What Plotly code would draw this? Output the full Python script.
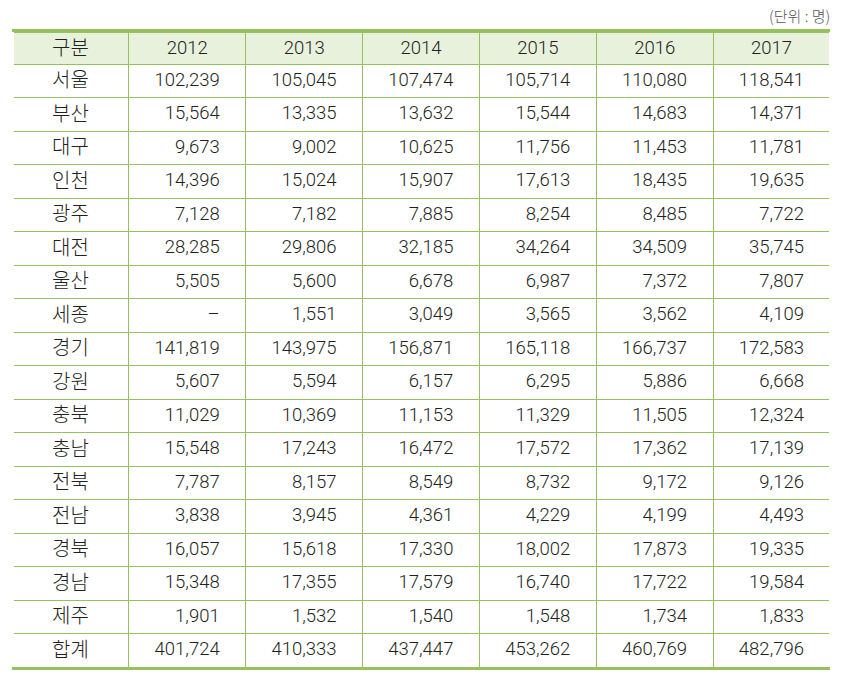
import plotly.graph_objects as go

regions = ["서울", "부산", "대구", "인천", "광주", "대전", "울산", "세종", "경기",
           "강원", "충북", "충남", "전북", "전남", "경북", "경남", "제주", "합계"]
years = ["2012", "2013", "2014", "2015", "2016", "2017"]

v2012 = [102239, 15564, 9673, 14396, 7128, 28285, 5505, None, 141819,
         5607, 11029, 15548, 7787, 3838, 16057, 15348, 1901, 401724]
v2013 = [105045, 13335, 9002, 15024, 7182, 29806, 5600, 1551, 143975,
         5594, 10369, 17243, 8157, 3945, 15618, 17355, 1532, 410333]
v2014 = [107474, 13632, 10625, 15907, 7885, 32185, 6678, 3049, 156871,
         6157, 11153, 16472, 8549, 4361, 17330, 17579, 1540, 437447]
v2015 = [105714, 15544, 11756, 17613, 8254, 34264, 6987, 3565, 165118,
         6295, 11329, 17572, 8732, 4229, 18002, 16740, 1548, 453262]
v2016 = [110080, 14683, 11453, 18435, 8485, 34509, 7372, 3562, 166737,
         5886, 11505, 17362, 9172, 4199, 17873, 17722, 1734, 460769]
v2017 = [118541, 14371, 11781, 19635, 7722, 35745, 7807, 4109, 172583,
         6668, 12324, 17139, 9126, 4493, 19335, 19584, 1833, 482796]

unit_label = "(단위 : 명)"

GREEN = "#96c15c"
HEADER_BG = "#e8f1dc"
TEXT = "#231f20"
KO_FONT = "Noto Sans CJK KR, sans-serif"
NUM_FONT = "Roboto, Liberation Sans, sans-serif"
PAD = "\u00a0" * 4

W, H = 844, 698
HEADER_H, ROW_H = 32, 33.5
# page body adds an 8px offset, margins below take that into account
M_L, M_R, M_T = 4, 22, 24
M_B = H - M_T - int(round(HEADER_H + ROW_H * len(regions)))


def fmt(col):
    return [("–" if v is None else f"{v:,}") + PAD for v in col]


columns = [regions] + [fmt(c) for c in (v2012, v2013, v2014, v2015, v2016, v2017)]
col_fonts = dict(
    family=[KO_FONT] + [NUM_FONT] * 6,
    size=[20] + [18.5] * 6,
    color=TEXT,
    weight=300,
)

fig = go.Figure(
    go.Table(
        columnwidth=[1] * 7,
        header=dict(
            values=["구분"] + years,
            fill_color=HEADER_BG,
            line=dict(color=GREEN, width=1),
            align="center",
            font=col_fonts,
            height=HEADER_H,
        ),
        cells=dict(
            values=columns,
            fill_color="white",
            line=dict(color=GREEN, width=1),
            align=["center"] + ["right"] * 6,
            font=col_fonts,
            height=ROW_H,
        ),
    )
)

plot_w = W - M_L - M_R
plot_h = H - M_T - M_B


def box(x, y, xanchor, yanchor, w, h, color):
    fig.add_annotation(
        text="\u00a0", xref="paper", yref="paper", x=x, y=y,
        xanchor=xanchor, yanchor=yanchor, width=w, height=h,
        bgcolor=color, borderpad=0, borderwidth=0, showarrow=False,
        font=dict(size=1),
    )


# hide outer left/right cell borders
box(0, 0.5, "center", "middle", 3, plot_h, "white")
box(1, 0.5, "center", "middle", 3, plot_h, "white")
# thick green rules above header and below last row
box(0.5, 1, "center", "bottom", plot_w, 3, GREEN)
box(0.5, 0, "center", "top", plot_w, 3, GREEN)

fig.add_annotation(
    text=unit_label, xref="paper", yref="paper", x=1.0, y=1.0,
    xshift=2, yshift=17, xanchor="right", yanchor="middle", showarrow=False,
    font=dict(family=KO_FONT, size=15, color="#555555", weight=300),
)

fig.update_layout(
    width=W, height=H,
    margin=dict(l=M_L, r=M_R, t=M_T, b=M_B),
    paper_bgcolor="white",
)

fig.write_html("out.html")
